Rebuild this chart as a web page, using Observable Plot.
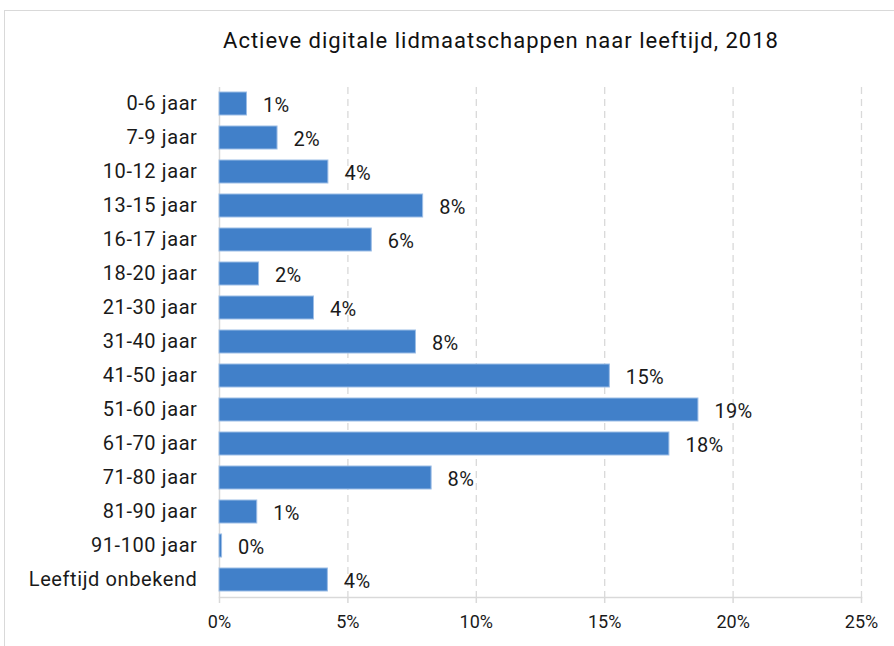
<!DOCTYPE html>
<html>
<head>
<meta charset="utf-8">
<script src="https://cdn.jsdelivr.net/npm/d3@7"></script>
<script src="https://cdn.jsdelivr.net/npm/@observablehq/plot@0.6"></script>
<style>
  html, body { margin: 0; padding: 0; background: #fff; }
  #wrap { position: relative; width: 894px; height: 646px; overflow: hidden; font-family: Roboto, "DejaVu Sans Condensed", sans-serif; }
  #frame { position: absolute; left: 4px; top: 10px; width: 1000px; height: 1000px; border-left: 1px solid #d9d9d9; border-top: 1px solid #d9d9d9; }
  #title { position: absolute; left: 0; width: 1002px; top: 28px; text-align: center; font-size: 22px; letter-spacing: 1px; color: #111; }
  #chart { position: absolute; left: 0; top: 70px; }
  #chart g[aria-label="y-axis tick label"] text { letter-spacing: 0.6px; }
  #chart g[aria-label="text"] text { letter-spacing: 0.3px; }
</style>
</head>
<body>
<div id="wrap">
  <div id="frame"></div>
  <div id="title">Actieve digitale lidmaatschappen naar leeftijd, 2018</div>
  <div id="chart"></div>
</div>
<script>
const categories = ["0-6 jaar","7-9 jaar","10-12 jaar","13-15 jaar","16-17 jaar","18-20 jaar","21-30 jaar","31-40 jaar","41-50 jaar","51-60 jaar","61-70 jaar","71-80 jaar","81-90 jaar","91-100 jaar","Leeftijd onbekend"];
const values = [1.07, 2.26, 4.24, 7.93, 5.93, 1.54, 3.68, 7.65, 15.2, 18.65, 17.52, 8.26, 1.47, 0.1, 4.22];
const xTicks = [0, 5, 10, 15, 20, 25];

const data = categories.map((c, i) => ({cat: c, v: values[i]}));

const chart = Plot.plot({
  width: 894,
  height: 576,
  marginLeft: 219,
  marginRight: 33,
  marginTop: 17,
  marginBottom: 49,
  style: {fontFamily: "Roboto, 'DejaVu Sans Condensed', sans-serif", background: "transparent"},
  x: {domain: [0, 25], ticks: xTicks},
  y: {domain: categories, paddingInner: 0.32, paddingOuter: 0.16},
  marks: [
    Plot.ruleX(xTicks.filter(d => d > 0), {stroke: "#d9d9d9", strokeWidth: 1.3, strokeDasharray: "7,5"}),
    Plot.frame({anchor: "bottom", stroke: "#d9d9d9", strokeWidth: 1.5}),
    Plot.ruleX([0], {stroke: "#d9d9d9", strokeWidth: 1.5}),
    Plot.barX(data, {x: "v", y: "cat", fill: "#4180c9", stroke: "#9cbde6", strokeWidth: 1}),
    Plot.text(data, {x: "v", y: "cat", text: d => Math.round(d.v) + "%", textAnchor: "start", dx: 16, dy: 2, fontSize: 20, fill: "#1a1a1a"}),
    Plot.axisY({tickSize: 0, tickPadding: 22, fontSize: 20, color: "#1a1a1a", label: null}),
    Plot.axisX({ticks: xTicks, tickSize: 6, tickPadding: 12, fontSize: 18, stroke: "#d9d9d9", strokeWidth: 1.5, color: "#1a1a1a", tickFormat: d => d + "%", label: null})
  ]
});
document.getElementById("chart").appendChild(chart);
</script>
</body>
</html>
